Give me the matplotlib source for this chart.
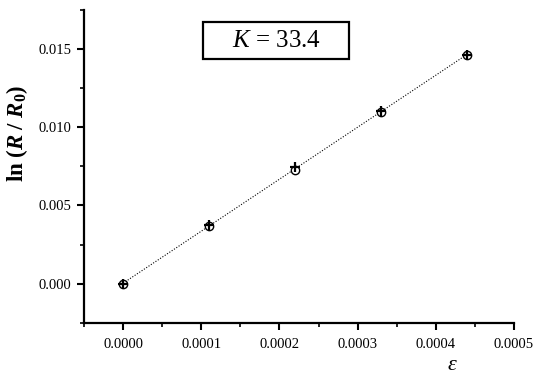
import numpy as np
import matplotlib
matplotlib.use("Agg")
import matplotlib.pyplot as plt
from matplotlib.ticker import MultipleLocator, FormatStrFormatter
from matplotlib.patches import Rectangle

strain = [0.0, 0.00011, 0.00022, 0.00033, 0.00044]
ln_circle = [0.0, 0.00369, 0.00726, 0.01100, 0.01463]
ln_plus = [0.0, 0.00372, 0.00747, 0.01102, 0.01465]
k_label = "33.4"

plt.rcParams['font.family'] = ['Liberation Serif', 'DejaVu Serif']
plt.rcParams['mathtext.fontset'] = 'custom'
plt.rcParams['mathtext.rm'] = 'Liberation Serif'
plt.rcParams['mathtext.it'] = 'Liberation Serif:italic'
plt.rcParams['mathtext.bf'] = 'Liberation Serif:bold'
plt.rcParams['mathtext.bfit'] = 'Liberation Serif:bold:italic'

W, H = 539, 375
fig = plt.figure(figsize=(W/100, H/100), dpi=100)
ax_l, ax_r, ax_t, ax_b = 84, 514, 10, 322.7
ax = fig.add_axes([ax_l/W, 1-ax_b/H, (ax_r-ax_l)/W, (ax_b-ax_t)/H])

x = np.array(strain)
y_all = np.concatenate([ln_circle, ln_plus])
coef = np.polyfit(np.concatenate([x, x]), y_all, 1)
xs = np.array([x.min(), x.max()])
ax.plot(xs, np.polyval(coef, xs), color='black', lw=0.8, ls=(0, (1, 1.5)), zorder=1)

ax.plot(strain, ln_circle, ls='none', marker='o', ms=6, mfc='white', mec='black', mew=1.0, zorder=2)
ax.plot(strain, ln_plus, ls='none', marker='+', ms=7, mec='black', mew=1.6, zorder=3)

ax.set_xlim(-0.00005, 0.0005)
ax.set_ylim(-0.0025, 0.0175)
ax.xaxis.set_major_locator(MultipleLocator(0.0001))
ax.xaxis.set_minor_locator(MultipleLocator(0.00005))
ax.yaxis.set_major_locator(MultipleLocator(0.005))
ax.yaxis.set_minor_locator(MultipleLocator(0.0025))
ax.xaxis.set_major_formatter(FormatStrFormatter('%.4f'))
ax.yaxis.set_major_formatter(FormatStrFormatter('%.3f'))

for s in ['top', 'right']:
    ax.spines[s].set_visible(False)
for s in ['left', 'bottom']:
    ax.spines[s].set_linewidth(1.6)

ax.tick_params(which='major', direction='out', length=5, width=1.5, labelsize=10.5)
ax.tick_params(axis='y', which='major', pad=4)
ax.tick_params(axis='x', which='major', pad=6)
ax.tick_params(which='minor', direction='out', length=3, width=1.2)

def fx(px):
    return (px - ax_l) / (ax_r - ax_l)

def fy(py):
    return (ax_b - py) / (ax_b - ax_t)

ax.set_ylabel(r'$\mathbf{ln\ (}\boldsymbol{R}\mathbf{\ /\ }\boldsymbol{R}_\mathbf{0}\mathbf{)}$', fontsize=16.5,
              va='center', ha='center')
ax.yaxis.set_label_coords(fx(17), fy(133))
ax.set_xlabel(r'$\varepsilon$', fontsize=16)
ax.xaxis.set_label_coords(fx(452), fy(366))
ax.xaxis.label.set_va('center')

ax.add_patch(Rectangle((fx(203), fy(59)), fx(349) - fx(203), fy(22) - fy(59),
                       transform=ax.transAxes, fc='white', ec='black', lw=1.6, clip_on=False, zorder=4))
ax.text(fx(276), fy(41), r'$K$ = ' + k_label, transform=ax.transAxes, ha='center', va='center',
        fontsize=18, zorder=5)

fig.savefig('out.png', dpi=100)
